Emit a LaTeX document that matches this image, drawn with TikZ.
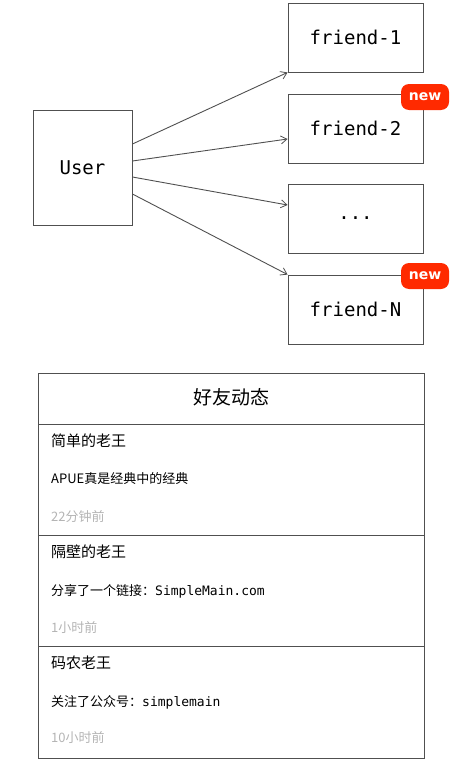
\documentclass[tikz,border=0pt]{standalone}
\usepackage{fontspec}
\setmonofont{DejaVu Sans Mono}
\newfontfamily\cjk{Noto Sans CJK SC}
\newfontfamily\badgefont{DejaVu Sans}
\usetikzlibrary{arrows.meta}
\definecolor{linegray}{HTML}{505050}
\definecolor{badgered}{HTML}{FF2A00}
\definecolor{timegray}{HTML}{B4B4B4}
\tikzset{
  fbox/.style={draw=linegray, line width=0.9pt, minimum width=135pt, minimum height=69pt, inner sep=0pt, font=\fontsize{19}{22}\selectfont\ttfamily},
  userbox/.style={fbox, minimum width=99pt, minimum height=115pt},
  badgebox/.style={fill=badgered, rounded corners=8pt, minimum width=48pt, minimum height=26pt, inner sep=0pt, text=white, font=\fontsize{14}{16}\selectfont\badgefont\bfseries},
  linkarrow/.style={draw=linegray, line width=0.9pt, -{Straight Barb[length=6pt,width=8pt,line width=0.8pt]}},
  nametext/.style={anchor=west, inner sep=0pt, font=\fontsize{15}{18}\selectfont\cjk},
  msgtext/.style={anchor=west, inner sep=0pt, font=\fontsize{13}{16}\selectfont\cjk},
  timetext/.style={anchor=west, inner sep=0pt, text=timegray, font=\fontsize{13}{16}\selectfont\cjk},
  hrule/.style={draw=linegray, line width=0.9pt}
}
\begin{document}
\begin{tikzpicture}[x=1pt,y=-1pt]
\useasboundingbox (0,0) rectangle (465,768);
\node[userbox] (user) at (82.5,167.5) {User};
\node[fbox] (f1) at (355.5,37.5) {friend-1};
\node[fbox] (f2) at (355.5,128.5) {friend-2};
\node[fbox] (f3) at (355.5,218.5) {...};
\node[fbox] (fN) at (355.5,309.5) {friend-N};
\node[badgebox] (new2) at (425,97) {new};
\node[badgebox] (newN) at (425,276) {new};
\draw[linkarrow] ([yshift=23.5pt]user.east) -- (f1.south west);
\draw[linkarrow] ([yshift=6.5pt]user.east) -- ([yshift=-10.5pt]f2.west);
\draw[linkarrow] ([yshift=-9.5pt]user.east) -- ([yshift=13.5pt]f3.west);
\draw[linkarrow] ([yshift=-26.5pt]user.east) -- (fN.north west);
% feed panel
\node[draw=linegray, line width=0.9pt, minimum width=386pt, minimum height=385pt, inner sep=0pt] (panel) at (231,565.5) {};
\node[inner sep=0pt, font=\fontsize{19}{22}\selectfont\cjk] (title) at (231,397) {好友动态};
\coordinate (h1l) at (38,424); \coordinate (h1r) at (424,424);
\coordinate (h2l) at (38,535); \coordinate (h2r) at (424,535);
\coordinate (h3l) at (38,646); \coordinate (h3r) at (424,646);
\draw[hrule] (h1l) -- (h1r);
\draw[hrule] (h2l) -- (h2r);
\draw[hrule] (h3l) -- (h3r);
\node[nametext] (n1) at (51,441) {简单的老王};
\node[msgtext] (m1) at (51,479) {APUE真是经典中的经典};
\node[timetext] (t1) at (51,517) {22分钟前};
\node[nametext] (n2) at (51,552) {隔壁的老王};
\node[msgtext] (m2) at (51,591) {分享了一个链接：{\ttfamily SimpleMain.com}};
\node[timetext] (t2) at (51,628) {1小时前};
\node[nametext] (n3) at (51,663) {码农老王};
\node[msgtext] (m3) at (51,702) {关注了公众号：{\ttfamily simplemain}};
\node[timetext] (t3) at (51,738) {10小时前};
\end{tikzpicture}
\end{document}
